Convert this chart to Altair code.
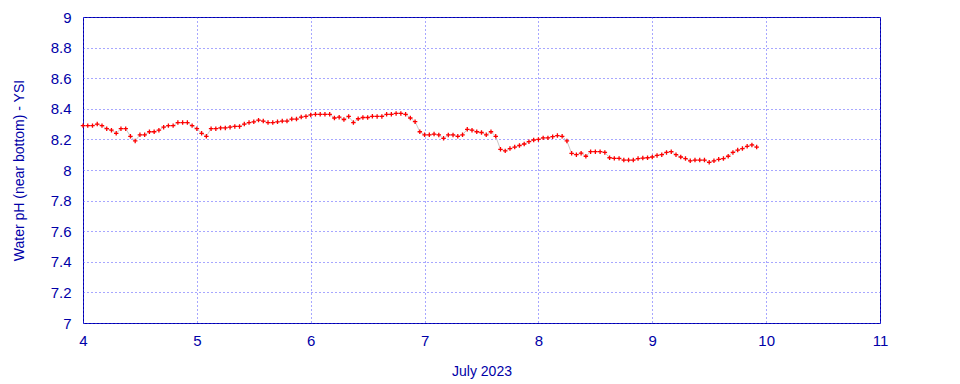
import altair as alt
import pandas as pd

# hourly pH readings, July 2023 (hour 0..23 of each day)
jul04 = [8.29, 8.29, 8.29, 8.30, 8.29, 8.27, 8.26, 8.24, 8.27, 8.27, 8.22, 8.19,
         8.23, 8.23, 8.25, 8.25, 8.26, 8.28, 8.29, 8.29, 8.31, 8.31, 8.31, 8.29]
jul05 = [8.27, 8.24, 8.22, 8.27, 8.27, 8.275, 8.275, 8.28, 8.285, 8.285, 8.30, 8.31,
         8.315, 8.326, 8.32, 8.31, 8.31, 8.315, 8.32, 8.32, 8.333, 8.333, 8.346, 8.35]
jul06 = [8.36, 8.364, 8.364, 8.364, 8.364, 8.34, 8.345, 8.33, 8.35, 8.31, 8.335, 8.343,
         8.343, 8.351, 8.35, 8.35, 8.364, 8.364, 8.37, 8.37, 8.364, 8.34, 8.316, 8.25]
jul07 = [8.23, 8.23, 8.235, 8.229, 8.207, 8.229, 8.229, 8.22, 8.23, 8.266, 8.26, 8.25,
         8.245, 8.23, 8.25, 8.22, 8.135, 8.125, 8.14, 8.15, 8.16, 8.17, 8.185, 8.196]
jul08 = [8.20, 8.21, 8.21, 8.218, 8.225, 8.22, 8.19, 8.109, 8.10, 8.11, 8.09, 8.12,
         8.12, 8.12, 8.115, 8.08, 8.076, 8.076, 8.065, 8.065, 8.065, 8.075, 8.078, 8.08]
jul09 = [8.085, 8.095, 8.10, 8.115, 8.12, 8.10, 8.085, 8.075, 8.06, 8.065, 8.065, 8.065,
         8.05, 8.06, 8.07, 8.075, 8.09, 8.115, 8.13, 8.14, 8.155, 8.164, 8.15]

days = [4, 5, 6, 7, 8, 9]
series = [jul04, jul05, jul06, jul07, jul08, jul09]

x_ticks = [4, 5, 6, 7, 8, 9, 10, 11]
y_ticks = [7.0, 7.2, 7.4, 7.6, 7.8, 8.0, 8.2, 8.4, 8.6, 8.8, 9.0]

rows = []
for d, vals in zip(days, series):
    for h, v in enumerate(vals):
        rows.append({"day": d + h / 24.0, "ph": v})
df = pd.DataFrame(rows)

AXIS_BLUE = "#0000a8"
GRID_BLUE = "#3c3cff"
FONT = "Liberation Sans"

common = dict(grid=True, ticks=False, domain=False, labelOverlap=False,
              labelFlush=False,
              labelFont=FONT, titleFont=FONT, labelFontSize=15, titleFontSize=14,
              labelColor=AXIS_BLUE, titleColor=AXIS_BLUE, titleFontWeight="normal",
              gridColor=GRID_BLUE, gridDash=[1, 3], gridWidth=1, gridOpacity=0.9)

x_enc = alt.X("day:Q",
              scale=alt.Scale(domain=[4, 11], nice=False, zero=False),
              axis=alt.Axis(values=x_ticks, tickCount=len(x_ticks), title="July 2023",
                            format="d", labelPadding=10, titlePadding=16, **common))
y_enc = alt.Y("ph:Q",
              scale=alt.Scale(domain=[7, 9], nice=False, zero=False),
              axis=alt.Axis(values=y_ticks, tickCount=len(y_ticks),
                            title="Water pH (near bottom) - YSI",
                            format="~g", labelPadding=12, titlePadding=24, **common))

base = alt.Chart(df)
line = base.mark_line(color="#c8c8c8", strokeWidth=1).encode(x=x_enc, y=y_enc)
pts = base.mark_point(shape="M-1,0L1,0M0,-1L0,1", size=20, color="#ff0000",
                      filled=False, strokeWidth=1.3, opacity=1).encode(x="day:Q", y="ph:Q")

chart = (line + pts).properties(
    width=797, height=306,
    autosize=alt.AutoSizeParams(type="none"),
    padding={"left": 75, "top": 9, "right": 72, "bottom": 60},
    background="white",
).configure_view(
    stroke=AXIS_BLUE, strokeWidth=1
)

chart.save("out.html", embed_options={"renderer": "svg", "actions": False})
